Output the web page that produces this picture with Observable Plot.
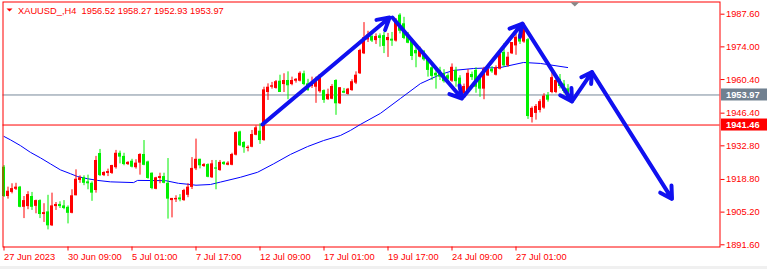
<!DOCTYPE html>
<html><head><meta charset="utf-8">
<script src="https://cdn.jsdelivr.net/npm/d3@7"></script>
<script src="https://cdn.jsdelivr.net/npm/@observablehq/plot@0.6"></script>
<style>
html,body{margin:0;padding:0;background:#f0f0f0;}
#chart{width:767px;height:266px;background:#fff;}
svg{display:block;}
</style></head><body><div id="chart"></div>
<script>
// ---- data (H4 candles, bar index 0..141) ----
const open = [1923.9,1911.7,1913.4,1914.7,1915.6,1907.2,1907.5,1911.7,1907.6,1910.0,
1904.2,1905.3,1899.5,1907.5,1908.4,1907.8,1907.2,1904.7,1912.0,1918.4,
1919.5,1917.8,1917.2,1914.2,1929.6,1920.4,1921.3,1921.3,1923.7,1929.7,
1928.4,1925.0,1926.4,1923.7,1925.6,1929.2,1926.1,1921.4,1914.7,1919.2,
1920.0,1917.2,1910.0,1910.3,1911.1,1910.0,1912.2,1915.5,1923.2,1927.2,
1924.2,1925.0,1919.5,1923.6,1922.5,1925.9,1924.7,1924.7,1928.9,1938.6,
1934.2,1931.7,1932.2,1937.2,1938.9,1935.0,1955.0,1957.2,1956.7,1959.7,
1958.3,1960.0,1958.3,1959.7,1959.7,1962.8,1958.6,1957.5,1957.2,1955.3,
1955.8,1952.0,1952.2,1960.0,1950.3,1955.5,1954.2,1955.8,1958.9,1962.8,
1971.1,1976.9,1978.3,1976.6,1978.6,1978.7,1976.6,1977.2,1976.4,1987.2,
1983.6,1978.6,1976.6,1972.5,1969.7,1971.9,1968.6,1965.3,1963.0,1964.2,
1962.8,1962.0,1959.7,1964.2,1961.0,1954.5,1955.0,1962.5,1964.2,1961.4,
1956.4,1961.9,1964.7,1962.2,1964.7,1971.7,1966.1,1971.1,1974.4,1979.0,
1976.0,1977.0,1944.6,1946.3,1947.5,1948.5,1953.8,1955.0,1955.0,1960.5,
1958.5,1956.52];
const high = [1924.6,1915.6,1917.0,1917.2,1915.9,1911.7,1913.7,1913.4,1910.2,1910.3,
1908.7,1912.2,1913.1,1909.2,1909.5,1910.0,1907.8,1914.5,1922.8,1920.3,
1920.3,1920.6,1917.8,1928.4,1931.3,1922.0,1923.1,1924.7,1930.9,1930.6,
1929.7,1926.2,1927.2,1927.0,1929.5,1935.0,1926.4,1921.5,1919.7,1921.4,
1921.4,1927.5,1910.9,1912.0,1912.5,1914.7,1917.0,1927.9,1935.6,1927.2,
1925.4,1925.3,1926.7,1926.7,1926.7,1926.2,1926.2,1929.7,1938.6,1938.9,
1934.5,1932.8,1939.2,1941.1,1942.0,1957.2,1958.6,1959.2,1960.0,1962.2,
1962.8,1963.6,1961.4,1960.8,1963.6,1963.9,1960.5,1961.4,1961.4,1962.5,
1956.1,1956.4,1958.3,1960.3,1957.0,1956.7,1956.7,1960.3,1963.6,1973.0,
1984.1,1980.5,1979.1,1979.4,1979.4,1980.0,1979.6,1980.0,1985.8,1987.8,
1986.3,1980.0,1977.2,1974.7,1973.9,1972.5,1968.6,1966.9,1965.3,1965.5,
1964.5,1962.8,1966.9,1965.5,1962.0,1958.5,1964.5,1963.5,1965.3,1962.0,
1965.5,1965.8,1965.8,1966.1,1971.9,1975.3,1971.7,1975.8,1979.4,1980.5,
1983.8,1977.5,1949.0,1950.0,1952.0,1954.5,1955.0,1963.5,1961.0,1962.5,
1960.0,1958.27];
const low = [1911.3,1910.6,1912.8,1914.2,1907.0,1902.5,1906.2,1905.9,1904.5,1902.5,
1900.9,1897.8,1899.2,1905.9,1906.7,1906.2,1900.3,1904.5,1912.0,1917.2,
1916.2,1914.5,1909.7,1913.1,1920.0,1920.0,1920.0,1920.9,1923.1,1925.3,
1924.5,1924.6,1923.6,1923.1,1920.6,1924.5,1918.9,1914.5,1914.5,1917.0,
1917.0,1902.3,1902.8,1909.2,1909.5,1909.7,1911.2,1914.6,1922.5,1923.2,
1923.8,1919.5,1919.2,1914.5,1922.2,1924.6,1924.5,1924.5,1928.6,1932.5,
1929.7,1930.3,1932.0,1937.0,1933.4,1934.7,1951.7,1956.4,1956.4,1955.0,
1955.0,1952.0,1957.8,1958.9,1959.4,1957.8,1955.5,1956.7,1950.5,1954.7,
1950.5,1951.7,1952.0,1945.5,1950.0,1954.5,1953.9,1955.5,1958.3,1962.5,
1970.8,1975.8,1975.8,1975.0,1973.9,1971.2,1969.6,1974.2,1976.0,1979.4,
1977.0,1975.3,1968.3,1965.3,1969.4,1968.0,1961.4,1960.0,1956.4,1960.0,
1958.9,1959.2,1959.2,1957.2,1954.5,1953.0,1955.0,1960.0,1954.7,1953.0,
1952.0,1961.7,1963.0,1961.9,1964.4,1965.5,1965.5,1970.8,1970.5,1975.0,
1975.5,1943.8,1942.3,1943.5,1946.5,1948.0,1951.0,1954.5,1954.5,1956.5,
1954.5,1952.93];
const close = [1911.7,1913.9,1915.0,1915.6,1907.2,1910.0,1912.5,1907.2,1910.0,1904.2,
1905.0,1899.5,1907.8,1908.4,1907.5,1906.7,1904.7,1912.0,1918.9,1919.5,
1917.2,1917.0,1913.1,1926.7,1920.4,1921.7,1922.1,1924.6,1929.7,1928.1,
1925.0,1925.9,1923.9,1925.6,1929.2,1924.7,1919.2,1915.0,1919.5,1920.0,
1917.2,1910.6,1910.9,1910.9,1910.3,1914.2,1915.6,1923.4,1927.2,1924.5,
1925.0,1919.7,1925.3,1923.1,1925.9,1925.0,1925.6,1929.2,1938.3,1932.8,
1932.0,1932.2,1937.5,1940.3,1935.0,1956.1,1957.2,1957.8,1959.5,1955.0,
1960.0,1957.8,1960.0,1960.5,1963.0,1958.3,1955.8,1959.2,1960.0,1962.2,
1951.7,1954.2,1957.5,1950.3,1957.0,1954.7,1956.4,1959.5,1962.2,1972.5,
1977.8,1978.9,1976.4,1978.3,1977.5,1974.2,1977.9,1976.4,1985.0,1980.5,
1977.5,1975.5,1970.0,1971.1,1972.8,1968.6,1964.2,1961.7,1961.9,1961.4,
1959.5,1960.5,1965.5,1959.5,1956.0,1957.5,1963.0,1961.2,1957.2,1956.4,
1964.7,1964.6,1963.6,1965.3,1970.8,1966.1,1969.7,1975.8,1978.0,1976.0,
1981.8,1945.0,1948.4,1949.2,1951.2,1953.5,1951.8,1961.2,1960.0,1957.5,
1955.5,1953.97];

// moving average (bar index, price)
const maBar = [0,1.6,4.1,6.6,9.1,11.6,14.1,16.6,18.4,20.9,23.4,26.6,32.4,33.4,40.4,43.6,46,48,51.6,54.1,59.1,63.4,67.4,71.6,75.9,79.9,84.1,86.6,89.1,94.1,99.1,104.1,109.1,112.4,117.4,124.1,129.9,134.1,140.9];
const maVal = [1936.7,1935.3,1932.9,1930.1,1927.8,1925.3,1922.8,1921.2,1920.0,1919.1,1918.4,1917.8,1917.5,1918.4,1918.3,1917.2,1916.8,1916.4,1916.7,1917.7,1919.7,1921.8,1925.3,1929.2,1932.5,1935.0,1937.1,1939.2,1941.7,1946.3,1952.5,1958.7,1962.5,1964.2,1965.0,1965.4,1967.5,1967.1,1965.4];

// hand-drawn arrows (bar index, price)
const arrowX1 = [64.6, 97.1, 114.9, 129.6, 142.0, 147.0];
const arrowY1 = [1941.7, 1986.2, 1953.3, 1983.7, 1951.3, 1963.5];
const arrowX2 = [96.4, 114.5, 129.5, 142.0, 147.0, 167.0];
const arrowY2 = [1986.2, 1952.5, 1983.6, 1951.3, 1963.5, 1910.7];

const bidLine = 1953.97;
const levelLine = 1941.46;
const shiftMarkerBar = 142.7;

const xTickBars = [0,16,32,48,64,80,96,112,128];
const xTickLabels = ["27 Jun 2023","30 Jun 09:00","5 Jul 01:00","7 Jul 17:00","12 Jul 09:00","17 Jul 01:00","19 Jul 17:00","24 Jul 09:00","27 Jul 01:00"];
const yTicks = [1987.60,1974.00,1960.40,1946.40,1932.80,1918.80,1905.20,1891.60];
const titleText = "XAUUSD_,H4  1956.52 1958.27 1952.93 1953.97";

// ---- build ----
const W = 767, H = 266;
const mL = 2.5, mR = 47.5, mT = 1.5, mB = 19.5;
const FONT = '"Liberation Sans",Arial,sans-serif';
const RED = "#ff0000", GREEN = "#00f000", BLUE = "#0000ff";

const bars = open.map((o, i) => ({i, o, h: high[i], l: low[i], c: close[i]}));
const ups = bars.filter(d => d.c >= d.o);
const downs = bars.filter(d => d.c < d.o);
const ma = maBar.map((b, k) => ({b, v: maVal[k]}));
const arrows = arrowX1.map((x, k) => ({x1: x, y1: arrowY1[k], x2: arrowX2[k], y2: arrowY2[k]}));
const labelByBar = new Map(xTickBars.map((b, k) => [b, xTickLabels[k]]));

const downTri = {draw(ctx, size) {
  const r = Math.sqrt(size / Math.PI);
  ctx.moveTo(-r, -r / 2); ctx.lineTo(r, -r / 2); ctx.lineTo(0, r / 2); ctx.closePath();
}};

const candles = (data, col) => [
  Plot.ruleX(data, {x: "i", y1: "l", y2: "h", stroke: col, strokeWidth: 1}),
  Plot.rect(data, {x1: d => d.i - 0.375, x2: d => d.i + 0.375, y1: "o", y2: "c", fill: col})
];

const chart = Plot.plot({
  width: W, height: H,
  marginLeft: mL, marginRight: mR, marginTop: mT, marginBottom: mB,
  style: {background: "#fff", fontFamily: FONT, fontSize: "9.3px", overflow: "visible"},
  x: {type: "linear", domain: [-0.25, 179], axis: null},
  y: {type: "linear", domain: [1890.68, 1992.68], axis: null},
  marks: [
    Plot.ruleY([bidLine], {stroke: "#778899", strokeWidth: 1}),
    Plot.ruleY([levelLine], {stroke: RED, strokeWidth: 1}),
    Plot.line(ma, {x: "b", y: "v", stroke: BLUE, strokeWidth: 1}),
    ...candles(ups, RED),
    ...candles(downs, GREEN),
    Plot.arrow(arrows, {x1: "x1", y1: "y1", x2: "x2", y2: "y2", stroke: "#1010f0", strokeWidth: 4, headLength: 5, headAngle: 60}),
    Plot.frame({stroke: RED}),
    Plot.axisX({ticks: xTickBars, tickFormat: d => labelByBar.get(d), anchor: "bottom",
      tickSize: 4, tickPadding: 2, textAnchor: "start", stroke: RED, fill: RED, color: RED}),
    Plot.axisY({ticks: yTicks, tickFormat: d => d.toFixed(2), anchor: "right",
      tickSize: 4, tickPadding: 2, stroke: RED, fill: RED, color: RED}),
    Plot.text([bidLine, levelLine], {y: d => d, text: d => d.toFixed(2), frameAnchor: "right",
      dx: 6, textAnchor: "start", fill: "#fff", fontWeight: "bold"}),
    Plot.text([titleText], {frameAnchor: "top-left", dx: 15, dy: 5, textAnchor: "start", lineAnchor: "top", fill: RED}),
    Plot.dot([0], {frameAnchor: "top-left", dx: 6.5, dy: 8, symbol: downTri, r: 3, fill: RED, stroke: "none"}),
    Plot.dot([shiftMarkerBar], {x: d => d, frameAnchor: "top", dy: 2.4, symbol: downTri, r: 4.4, fill: "#888", stroke: "none"})
  ]
});
document.getElementById("chart").appendChild(chart);

// price tag backgrounds behind the labels on the right axis
const ys = chart.scale("y");
const tagG = d3.select(chart).insert("g", ":first-child");
[[bidLine, "#708090"], [levelLine, RED]].forEach(([v, col]) => {
  const y = ys.apply(v);
  tagG.append("rect").attr("x", W - mR + 1.5).attr("y", y - 6).attr("width", mR - 1.5).attr("height", 12).attr("fill", col);
});
</script></body></html>
